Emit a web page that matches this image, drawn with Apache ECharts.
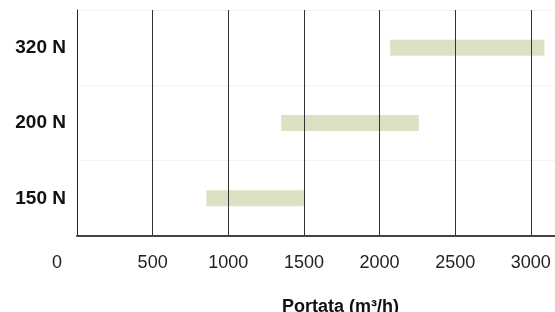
<!DOCTYPE html>
<html>
<head>
<meta charset="utf-8">
<script src="https://cdn.jsdelivr.net/npm/echarts@6/dist/echarts.min.js"></script>
<style>
  html, body { margin: 0; padding: 0; background: #fff; }
  #chart { width: 555px; height: 312px; }
</style>
</head>
<body>
<div id="chart"></div>
<script>
// pressione nominale -> campo di portata (m3/h)
var categories = ['150 N', '200 N', '320 N'];
var rangeStart = [855, 1350, 2070];
var rangeEnd = [1500, 2260, 3090];
var xTicks = [0, 500, 1000, 1500, 2000, 2500, 3000];

var charts = echarts.init(document.getElementById('chart'));

var spans = rangeEnd.map(function (v, i) { return v - rangeStart[i]; });

const option = {
    animation: false,
    textStyle: { fontFamily: 'Liberation Sans, Arial, sans-serif' },
    grid: {
        left: 77,
        right: 0,
        top: 10,
        bottom: 76,
        containLabel: false,
        outerBoundsMode: 'none'
    },
    xAxis: {
        type: 'value',
        min: 0,
        max: 3160,
        interval: 500,
        z: 5,
        name: 'Portata (m³/h)',
        nameLocation: 'middle',
        nameGap: 62,
        nameTextStyle: {
            fontSize: 18,
            fontWeight: 'bold',
            color: '#111',
            padding: [0, 0, 0, 49]
        },
        axisLine: { show: true, lineStyle: { color: '#444', width: 2 } },
        axisTick: { show: false },
        axisLabel: {
            fontSize: 18,
            color: '#222',
            margin: 18,
            showMaxLabel: false,
            formatter: function (v) {
                if (xTicks.indexOf(v) < 0) return '';
                return v === 0 ? '{z|0}' : String(v);
            },
            rich: {
                z: { fontSize: 18, color: '#222', padding: [0, 40, 0, 0] }
            }
        },
        splitLine: {
            show: true,
            showMinLine: false,
            showMaxLine: false,
            lineStyle: { color: '#333', width: 1 }
        }
    },
    yAxis: {
        type: 'category',
        data: categories,
        axisLine: { show: true, lineStyle: { color: '#222', width: 1 } },
        axisTick: { show: false },
        axisLabel: {
            fontSize: 19,
            fontWeight: 'bold',
            color: '#111',
            margin: 11
        },
        splitLine: { show: true, lineStyle: { color: '#f3f3f3', width: 1 } }
    },
    series: [
        {
            name: 'base',
            type: 'bar',
            stack: 'range',
            data: rangeStart,
            barWidth: 16,
            itemStyle: { color: 'transparent' },
            silent: true
        },
        {
            name: 'portata',
            type: 'bar',
            stack: 'range',
            data: spans,
            barWidth: 16,
            itemStyle: { color: '#dce1c3' }
        }
    ]
};

charts.setOption(option);
</script>
</body>
</html>
